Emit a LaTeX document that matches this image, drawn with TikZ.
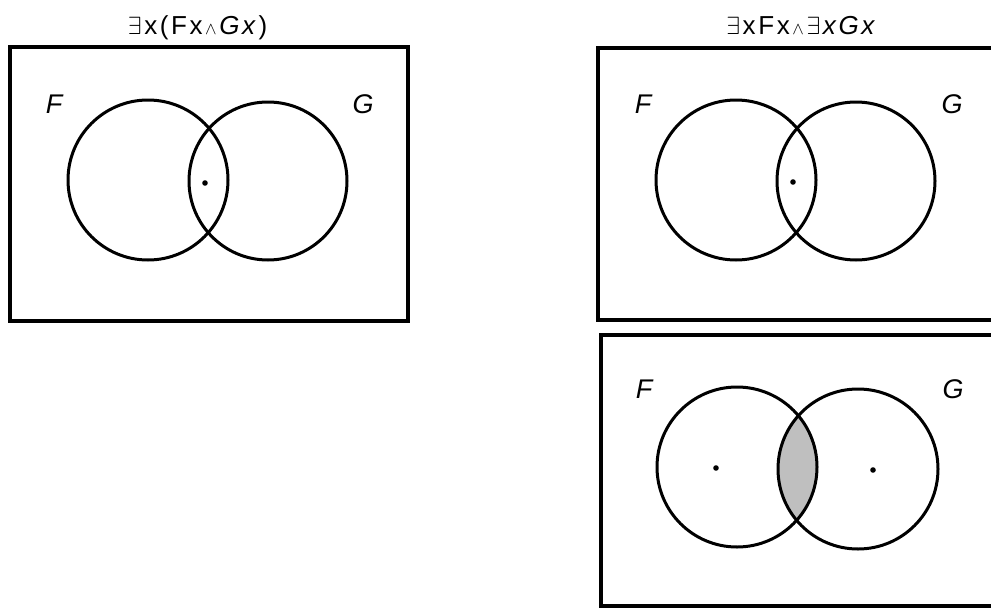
\documentclass[tikz,border=0pt]{standalone}
\usepackage{fontspec}
\setmainfont{Liberation Sans}
\newcommand{\gsp}{\kern2.6pt}
\newcommand{\ex}{$\exists$}
\newcommand{\wg}{{\fontsize{19}{20}\selectfont$\wedge$}}
\begin{document}
\begin{tikzpicture}[x=1pt,y=-1pt,
  frame/.style={line width=3.2pt},
  ring/.style={line width=3pt},
  lab/.style={font=\fontsize{27}{30}\selectfont\itshape, anchor=base},
  ttl/.style={font=\fontsize{26}{30}\selectfont\addfontfeatures{LetterSpace=10}, anchor=base, inner sep=0pt},
  pt/.style={fill=black}]
\useasboundingbox (0,0) rectangle (991,608);
% titles
\node[ttl] (t1) at (197.5,34) {\ex\gsp x(Fx\gsp\wg\gsp\textit{Gx})};
\node[ttl] (t2) at (802,34) {\ex\gsp xFx\gsp\wg\gsp\ex\gsp\textit{xGx}};
% left panel
\draw[frame] (10,47) rectangle (408,321);
\draw[ring] (148,180) circle[radius=80pt];
\draw[ring] (268,181) circle[radius=79pt];
\fill[pt] (205,183) circle[radius=2.8pt];
\node[lab] (f1) at (54,113) {F};
\node[lab] (g1) at (363,113) {G};
% right top panel
\draw[frame] (598,48) rectangle (1010,320);
\draw[ring] (736,180) circle[radius=80pt];
\draw[ring] (856,181) circle[radius=79pt];
\fill[pt] (793,182) circle[radius=2.8pt];
\node[lab] (f2) at (643,113) {F};
\node[lab] (g2) at (952,113) {G};
% right bottom panel
\draw[frame] (601,335) rectangle (1010,606);
\begin{scope}
  \clip (737,467) circle[radius=80pt];
  \fill[gray!50] (858,469) circle[radius=80pt];
\end{scope}
\draw[ring] (737,467) circle[radius=80pt];
\draw[ring] (858,469) circle[radius=80pt];
\fill[pt] (716,468) circle[radius=2.8pt];
\fill[pt] (873,470) circle[radius=2.8pt];
\node[lab] (f3) at (644,398) {F};
\node[lab] (g3) at (953,398) {G};
\end{tikzpicture}
\end{document}
